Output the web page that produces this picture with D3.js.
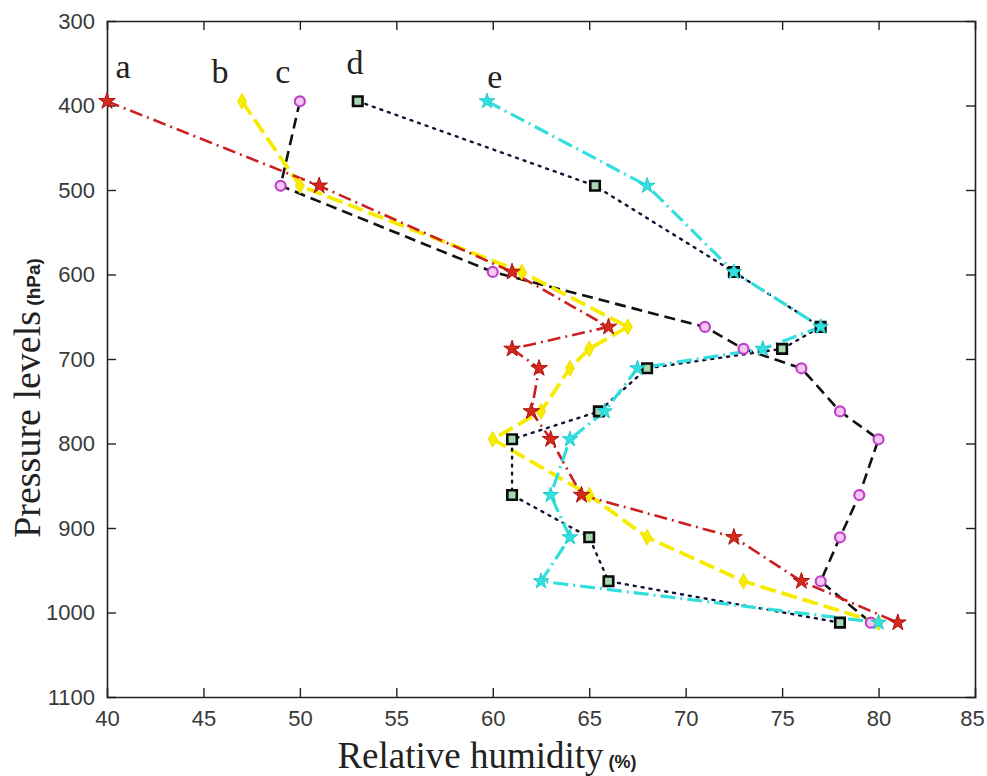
<!DOCTYPE html>
<html>
<head>
<meta charset="utf-8">
<script src="https://cdn.jsdelivr.net/npm/d3@7"></script>
<style>
  html, body { margin: 0; padding: 0; background: #fff; }
  svg { display: block; }
</style>
</head>
<body>
<svg id="chart" width="987" height="776"></svg>
<script>
// ---- data ----
const pressureLevels = [395, 495, 597, 662, 688, 711, 762, 795, 861, 911, 963, 1012];
const seriesA = [40, 51, 61, 66, 61, 62.4, 62, 63, 64.6, 72.5, 76, 81];
const seriesB = [47, 50, 61.5, 67, 65, 64, 62.5, 60, 65, 68, 73, 80];
const seriesC = [50, 49, 60, 71, 73, 76, 78, 80, 79, 78, 77, 79.6];
const seriesD = [53, 65.3, 72.5, 77, 75, 68, 65.5, 61, 61, 65, 66, 78];
const seriesE = [59.7, 68, 72.5, 77, 74, 67.5, 65.8, 64, 63, 64, 62.5, 80];
const seriesNames = ["a", "b", "c", "d", "e"];
const labelX = [40.83, 45.86, 49.12, 52.86, 60.11];
const labelP = [367, 373, 373, 363, 379];
const xTicks = [40, 45, 50, 55, 60, 65, 70, 75, 80, 85];
const yTicks = [300, 400, 500, 600, 700, 800, 900, 1000, 1100];

const svg = d3.select("#chart");
const x = d3.scaleLinear().domain([40, 85]).range([107, 975]);
const y = d3.scaleLinear().domain([300, 1100]).range([21, 697]);

const styles = {
  a: { values: seriesA, color: "#cc1f1f", width: 2.6, dash: "13,5,2,5", marker: "star" },
  b: { values: seriesB, color: "#f7ec00", width: 3.8, dash: "16,6", marker: "diamond" },
  c: { values: seriesC, color: "#111111", width: 2.6, dash: "11,6", marker: "circle" },
  d: { values: seriesD, color: "#111133", width: 2.4, dash: "2,6", marker: "square" },
  e: { values: seriesE, color: "#33dede", width: 3.2, dash: "15,5,2,5", marker: "cstar" }
};
const drawOrder = ["c", "b", "a", "d", "e"];

const line = d3.line().x(d => x(d[0])).y(d => y(d[1]));

const g = svg.append("g");
const tickFont = "'Liberation Sans Narrow', 'Liberation Sans', Arial, sans-serif";

const xAxis = g.append("g").attr("transform", `translate(0,${y(1100)})`)
  .call(d3.axisBottom(x).tickValues(xTicks).tickSize(-9).tickPadding(16).tickFormat(d3.format("d")));
const xAxisTop = g.append("g").attr("transform", `translate(0,${y(300)})`)
  .call(d3.axisTop(x).tickValues(xTicks).tickSize(-9).tickFormat(""));
const yAxis = g.append("g").attr("transform", `translate(${x(40)},0)`)
  .call(d3.axisLeft(y).tickValues(yTicks).tickSize(-9).tickPadding(12).tickFormat(d3.format("d")));
const yAxisRight = g.append("g").attr("transform", `translate(${x(85)},0)`)
  .call(d3.axisRight(y).tickValues(yTicks).tickSize(-9).tickFormat(""));

[xAxis, xAxisTop, yAxis, yAxisRight].forEach(a => {
  a.attr("font-family", null).attr("font-size", null);
  a.select(".domain").attr("stroke", "#222").attr("stroke-width", 1.6);
  a.selectAll(".tick line").attr("stroke", "#222").attr("stroke-width", 1.4);
  a.selectAll(".tick text")
    .attr("font-family", tickFont)
    .attr("font-weight", 400)
    .attr("font-size", 22).attr("fill", "#3a3a3a");
});
xAxis.selectAll(".tick text").attr("dy", "0.6em");
xAxis.selectAll(".tick").filter(d => d === 85).select("text").attr("dx", -3);
yAxis.selectAll(".tick").filter(d => d === 300 || d === 1100).select("line").remove();
yAxisRight.selectAll(".tick").filter(d => d === 300 || d === 1100).select("line").remove();
xAxis.selectAll(".tick").filter(d => d === 40 || d === 85).select("line").remove();
xAxisTop.selectAll(".tick").filter(d => d === 40 || d === 85).select("line").remove();

// lines
const plot = svg.append("g");
drawOrder.forEach(k => {
  const s = styles[k];
  const pts = s.values.map((v, i) => [v, pressureLevels[i]]);
  plot.append("path")
    .datum(pts)
    .attr("d", line)
    .attr("fill", "none")
    .attr("stroke", s.color)
    .attr("stroke-width", s.width)
    .attr("stroke-dasharray", s.dash)
    .attr("stroke-linecap", k === "d" ? "round" : "butt");
});

// markers
drawOrder.forEach(k => {
  const s = styles[k];
  const pts = s.values.map((v, i) => [v, pressureLevels[i]]);
  const mg = plot.append("g");
  pts.forEach(p => {
    const cx = x(p[0]), cy = y(p[1]);
    if (s.marker === "star") {
      mg.append("path").attr("d", d3.symbol(d3.symbolStar, 85)())
        .attr("transform", `translate(${cx},${cy})`)
        .attr("fill", "#d42a1a").attr("stroke", "#b01010").attr("stroke-width", 1);
    } else if (s.marker === "cstar") {
      mg.append("path").attr("d", d3.symbol(d3.symbolStar, 75)())
        .attr("transform", `translate(${cx},${cy})`)
        .attr("fill", "#33e0e0").attr("stroke", "#22cccc").attr("stroke-width", 1);
    } else if (s.marker === "diamond") {
      mg.append("path").attr("d", d3.symbol(d3.symbolDiamond, 70)())
        .attr("transform", `translate(${cx},${cy})`)
        .attr("fill", "#f8ec00").attr("stroke", "#f0e000").attr("stroke-width", 1);
    } else if (s.marker === "circle") {
      mg.append("circle").attr("cx", cx).attr("cy", cy).attr("r", 5)
        .attr("fill", "#f4c8f4").attr("stroke", "#c040c8").attr("stroke-width", 2.2);
    } else if (s.marker === "square") {
      mg.append("path").attr("d", d3.symbol(d3.symbolSquare, 90)())
        .attr("transform", `translate(${cx},${cy})`)
        .attr("fill", "#a8d8b0").attr("stroke", "#0a0a0a").attr("stroke-width", 2.6);
    }
  });
});

// series letters
seriesNames.forEach((n, i) => {
  svg.append("text")
    .attr("x", x(labelX[i])).attr("y", y(labelP[i]))
    .attr("text-anchor", "middle")
    .attr("font-family", "'Liberation Serif', 'Times New Roman', serif")
    .attr("font-size", 34).attr("fill", "#222")
    .text(n);
});

// axis titles
const xt = svg.append("text")
  .attr("x", 487).attr("y", 768)
  .attr("text-anchor", "middle")
  .attr("font-family", "'Liberation Serif', 'Times New Roman', serif")
  .attr("fill", "#222");
xt.append("tspan").attr("font-size", 37).text("Relative humidity");
xt.append("tspan").attr("font-size", 18).attr("font-weight", "bold")
  .attr("font-family", "'Liberation Sans', Arial, sans-serif").text(" (%)");

const yt = svg.append("text")
  .attr("transform", "translate(40,398) rotate(-90)")
  .attr("text-anchor", "middle")
  .attr("font-family", "'Liberation Serif', 'Times New Roman', serif")
  .attr("fill", "#222");
yt.append("tspan").attr("font-size", 38).text("Pressure levels");
yt.append("tspan").attr("font-size", 19).attr("font-weight", "bold")
  .attr("font-family", "'Liberation Sans', Arial, sans-serif").text(" (hPa)");
</script>
</body>
</html>
